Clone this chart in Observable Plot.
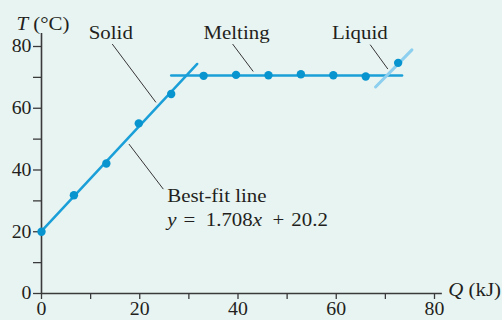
<!DOCTYPE html>
<html><head><meta charset="utf-8">
<script src="https://cdn.jsdelivr.net/npm/d3@7"></script>
<script src="https://cdn.jsdelivr.net/npm/@observablehq/plot@0.6"></script>
<style>
html,body{margin:0;padding:0;background:#e8f4f2;}
</style></head><body><div id="chart"></div>
<script>
// Data
const heatQ = [0, 6.6, 13.2, 19.8, 26.4, 33.0, 39.6, 46.2, 52.8, 59.4, 66.0, 72.6];
const tempT = [20.0, 31.8, 42.1, 55.1, 64.6, 70.5, 70.8, 70.7, 71.0, 70.7, 70.3, 74.7];
const fitSlope = 1.708;
const fitIntercept = 20.2;
const fitQ = [0, 31.7];
const meltQ = [26.4, 73.4];
const meltT = [70.6, 70.6];
const liquidQ = [68.0, 75.4];
const liquidT = [66.9, 78.9];
const xTicks = [0, 10, 20, 30, 40, 50, 60, 70, 80];
const yTicks = [0, 10, 20, 30, 40, 50, 60, 70, 80];
const labelTexts = ["Solid", "Melting", "Liquid"];
const labelQ = [14.1, 39.7, 64.8];
const labelT = [82.4, 82.4, 82.4];
const leaderQ1 = [14.4, 17.8, 38.9, 66.9];
const leaderT1 = [80.8, 48.4, 80.8, 80.6];
const leaderQ2 = [23.3, 24.8, 43.1, 70.5];
const leaderT2 = [61.9, 33.8, 71.9, 72.7];
const fitTexts = ["Best-fit line", "*y*\u2004=\u20021.708*x*\u2002+\u200420.2"];
const fitTextQ = [25.6, 25.6];
const fitTextT = [29.5, 22.0];

const pts = heatQ.map((q, i) => ({q, t: tempT[i]}));
const fitPts = fitQ.map(q => ({q, t: fitSlope * q + fitIntercept}));
const meltPts = meltQ.map((q, i) => ({q, t: meltT[i]}));
const liqPts = liquidQ.map((q, i) => ({q, t: liquidT[i]}));
const labels = labelTexts.map((s, i) => ({s, q: labelQ[i], t: labelT[i]}));
const leaders = leaderQ1.map((q1, i) => ({q1, t1: leaderT1[i], q2: leaderQ2[i], t2: leaderT2[i]}));
const fitLabels = fitTexts.map((s, i) => ({s, q: fitTextQ[i], t: fitTextT[i]}));

const FONT = "'Liberation Serif', 'Times New Roman', serif";
const ink = "#231f20";
const axisInk = "#3a3a3a";

const chart = Plot.plot({
  width: 502, height: 320,
  marginLeft: 41, marginRight: 68, marginTop: 46, marginBottom: 27,
  style: {background: "#e8f4f2", fontFamily: FONT, color: axisInk, overflow: "visible"},
  x: {domain: [0, 80]},
  y: {domain: [0, 80]},
  marks: [
    Plot.axisX({ticks: xTicks, tickSize: 6, tickPadding: 3, fontSize: 18,
      tickFormat: d => d % 20 === 0 ? d : "", label: null, stroke: axisInk, strokeWidth: 1.3, fill: ink}),
    Plot.axisY({ticks: yTicks, tickSize: 8, tickPadding: 2, fontSize: 18,
      tickFormat: d => d % 20 === 0 ? d : "", label: null, stroke: axisInk, strokeWidth: 1.3, fill: ink}),
    Plot.ruleX([0], {y1: 0, y2: 84.2, stroke: axisInk, strokeWidth: 1.6}),
    Plot.ruleY([0], {x1: 0, x2: 81.6, stroke: axisInk, strokeWidth: 1.6}),
    Plot.line(meltPts, {x: "q", y: "t", stroke: "#1a9fd8", strokeWidth: 2.5}),
    Plot.line(fitPts, {x: "q", y: "t", stroke: "#1a9fd8", strokeWidth: 2.5}),
    Plot.line(liqPts, {x: "q", y: "t", stroke: "#8ccfee", strokeWidth: 3}),
    Plot.dot(pts, {x: "q", y: "t", r: 4.2, fill: "#0895cf"}),
    Plot.link(leaders, {x1: "q1", y1: "t1", x2: "q2", y2: "t2", stroke: ink, strokeWidth: 0.9}),
    Plot.text(labels, {x: "q", y: "t", text: "s", textAnchor: "middle", lineAnchor: "bottom", fontSize: 19, fill: ink}),
    Plot.text(fitLabels, {x: "q", y: "t", text: "s", textAnchor: "start", lineAnchor: "bottom", fontSize: 19, fill: ink}),
    Plot.text(["*T* (°C)"], {x: -5.1, y: 85.5, textAnchor: "start", lineAnchor: "bottom", fontSize: 19, fill: ink}),
    Plot.text(["*Q* (kJ)"], {x: 82.8, y: -0.8, textAnchor: "start", lineAnchor: "bottom", fontSize: 19, fill: ink})
  ]
});

// italic segments marked with *...*, and a slight horizontal widening of the serif face
d3.select(chart).selectAll("text").each(function() {
  const el = d3.select(this);
  const tr = el.attr("transform") || "";
  el.attr("transform", (tr + " scale(1.1,1)").trim());
  if (el.selectAll("tspan").size() > 0) return;
  const s = el.text();
  if (!s.includes("*")) return;
  el.text(null);
  s.split("*").forEach((part, i) => {
    if (!part) return;
    const ts = el.append("tspan").text(part);
    if (i % 2 === 1) ts.attr("font-style", "italic");
  });
});

document.getElementById("chart").append(chart);
</script>
</body></html>
